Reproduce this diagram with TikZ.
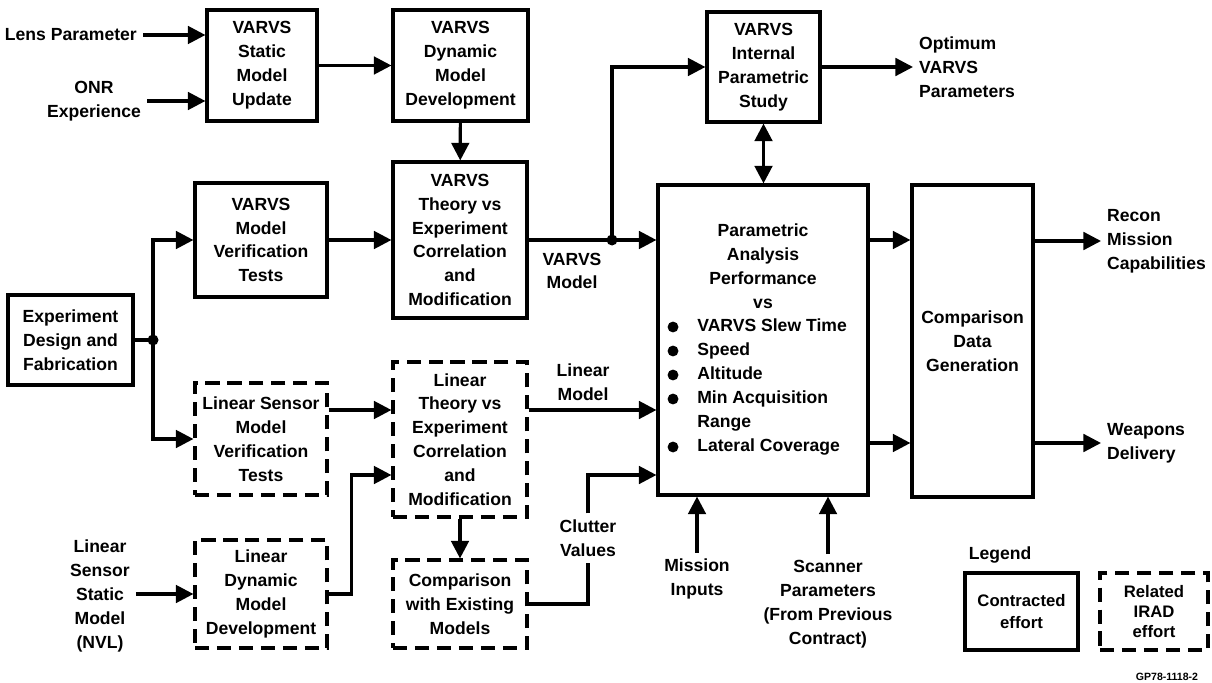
\documentclass[tikz,border=0pt]{standalone}
\usepackage{fontspec}
\setmainfont{Liberation Sans}
\usetikzlibrary{positioning,arrows.meta}

\begin{document}
\begin{tikzpicture}[x=0.02cm,y=-0.02cm,
    txt/.style={font=\fontsize{10}{13.6}\selectfont\bfseries,align=center},
    cbox/.style={txt,draw,line width=1.8pt,inner sep=0pt},
    dbox/.style={cbox,dash pattern=on 8pt off 4.5pt},
    flow/.style={line width=1.8pt,-{Triangle[length=10pt,width=10pt]}},
    line/.style={line width=1.8pt},
    twoway/.style={line width=1.8pt,{Triangle[length=10pt,width=10pt]}-{Triangle[length=10pt,width=10pt]}},
    dot/.style={circle,fill,inner sep=0pt,minimum size=0.22cm}]
    \useasboundingbox (0,0) rectangle (1212,682);

    % Contracted effort (solid boxes)
    \node[cbox,minimum width=2.20cm,minimum height=2.22cm] (stat) at (262,65.5) {VARVS\\Static\\Model\\Update};
    \node[cbox,minimum width=2.70cm,minimum height=2.22cm] (dyn) at (460.5,65.5) {VARVS\\Dynamic\\Model\\Development};
    \node[cbox,minimum width=2.26cm,minimum height=2.20cm] (intl) at (763.5,67) {VARVS\\Internal\\Parametric\\Study};
    \node[cbox,minimum width=2.64cm,minimum height=2.28cm] (mver) at (261,240) {VARVS\\Model\\Verification\\Tests};
    \node[cbox,minimum width=2.68cm,minimum height=3.12cm] (theo) at (460,240) {VARVS\\Theory vs\\Experiment\\Correlation\\and\\Modification};
    \node[cbox,minimum width=2.50cm,minimum height=1.80cm] (expd) at (70.5,340) {Experiment\\Design and\\Fabrication};
    \node[cbox,minimum width=4.20cm,minimum height=6.20cm] (para) at (763,340) {};
    \node[cbox,minimum width=2.42cm,minimum height=6.24cm] (cmpd) at (972.5,341) {Comparison\\Data\\Generation};

    % Related IRAD effort (dashed boxes)
    \node[dbox,minimum width=2.64cm,minimum height=2.24cm] (lver) at (261,439) {Linear Sensor\\Model\\Verification\\Tests};
    \node[dbox,minimum width=2.64cm,minimum height=2.16cm] (ldyn) at (261,594) {Linear\\Dynamic\\Model\\Development};
    \node[dbox,minimum width=2.68cm,minimum height=3.10cm] (ltheo) at (460,439.5) {Linear\\Theory vs\\Experiment\\Correlation\\and\\Modification};
    \node[dbox,minimum width=2.68cm,minimum height=1.76cm] (cmpx) at (460,604) {Comparison\\with Existing\\Models};

    % Contents of the parametric analysis box
    \node[txt] (phead) at (763,266) {Parametric\\Analysis\\Performance\\vs};
    \node[txt,align=left,anchor=west,inner sep=0pt] (pitems) at (697,387) {VARVS Slew Time\\Speed\\Altitude\\Min Acquisition\\Range\\Lateral Coverage};
    \foreach \y in {327,351,375,399,447}
        \fill (673,\y) circle[radius=3.1pt];

    % Inputs and outputs
    \node[txt,anchor=east] (lens) at (143,35) {Lens Parameter};
    \node[txt] (onr) at (94,101) {ONR\\Experience};
    \node[txt,align=left,anchor=west] (optim) at (913,67) {Optimum\\VARVS\\Parameters};
    \node[txt,align=left,anchor=west] (recon) at (1101,241) {Recon\\Mission\\Capabilities};
    \node[txt,align=left,anchor=west] (weap) at (1101,443) {Weapons\\Delivery};
    \node[txt] (lsst) at (100,596) {Linear\\Sensor\\Static\\Model\\(NVL)};
    \node[txt] (vmod) at (572,271) {VARVS\\Model};
    \node[txt] (lmod) at (583,382) {Linear\\Model};
    \node[txt] (clut) at (588,538) {Clutter\\Values};
    \node[txt] (miss) at (697,579) {Mission\\Inputs};
    \node[txt] (scan) at (828,604) {Scanner\\Parameters\\(From Previous\\Contract)};

    % Row levels
    \coordinate (r1) at (0,240);
    \coordinate (r2) at (0,443);
    \coordinate (r3) at (0,410);
    \coordinate (r4) at (0,475);
    \coordinate (j1) at (153,340);
    \coordinate (j2) at (612,240);

    % VARVS chain
    \draw[flow] (lens.east) -- (stat.west |- lens.east);
    \draw[flow] (onr.east) -- (stat.west |- onr.east);
    \draw[flow] (stat) -- (dyn);
    \draw[flow] (dyn) -- (theo);
    \draw[line] (expd.east) -- (j1);
    \draw[flow] (j1) |- (mver.west);
    \draw[flow] (j1) |- (lver.west);
    \node[dot] at (j1) {};
    \draw[flow] (mver) -- (theo);
    \draw[line] (theo.east) -- (j2);
    \draw[flow] (j2) -- (para.west |- j2);
    \draw[flow] (j2) |- (intl.west);
    \node[dot] at (j2) {};
    \draw[twoway] (intl.south) -- (intl.south |- para.north);
    \draw[flow] (intl.east) -- (optim.west);

    % Parametric analysis outputs
    \draw[flow] (para.east |- r1) -- (cmpd.west |- r1);
    \draw[flow] (para.east |- r2) -- (cmpd.west |- r2);
    \draw[flow] (cmpd.east |- recon.west) -- (recon.west);
    \draw[flow] (cmpd.east |- weap.west) -- (weap.west);

    % Linear sensor chain
    \draw[flow] (lver.east |- r3) -- (ltheo.west |- r3);
    \draw[flow] (lsst.east |- ldyn.west) -- (ldyn.west);
    \draw[flow] (ldyn.east) -- ++(23,0) |- (ltheo.west |- r4);
    \draw[flow] (ltheo.east |- r3) -- (para.west |- r3);
    \draw[flow] (ltheo) -- (cmpx);
    \draw[line] (cmpx.east) -| (clut.south);
    \draw[flow] (clut.north) |- (para.west |- r4);
    \draw[flow] (miss.north) -- (miss.north |- para.south);
    \draw[flow] (scan.north) -- (scan.north |- para.south);

    % Legend
    \node[txt] (legt) at (1000,555) {Legend};
    \node[cbox,font=\fontsize{9.5}{12}\selectfont\bfseries,minimum width=2.26cm,minimum height=1.54cm] (leg1) at (1021.5,611.5) {Contracted\\effort};
    \node[dbox,font=\fontsize{9.5}{11.5}\selectfont\bfseries,minimum width=2.16cm,minimum height=1.54cm] (leg2) at (1154,611.5) {Related\\IRAD\\effort};
    \node[font=\fontsize{6}{7}\selectfont\bfseries] (gpno) at (1167,677) {GP78-1118-2};
\end{tikzpicture}
\end{document}
